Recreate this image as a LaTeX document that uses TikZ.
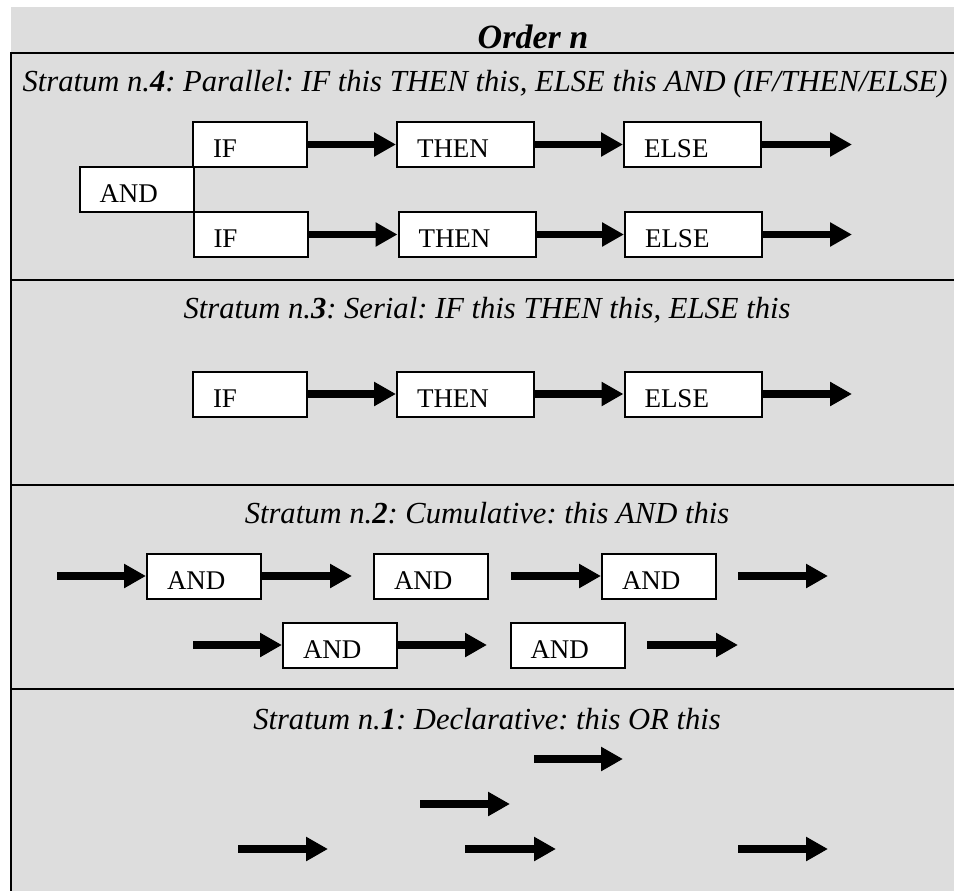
\documentclass[tikz,border=0pt]{standalone}
\usepackage{fontspec}
\setmainfont{Liberation Serif}
\usetikzlibrary{arrows.meta}
\definecolor{bg}{RGB}{221,221,221}
\frenchspacing
\tikzset{
  x=1pt, y=-1pt,
  frame/.style={line width=2pt, draw=black},
  box/.style={draw=black, fill=white, line width=2pt, minimum height=45pt,
    inner xsep=20pt, inner ysep=0pt, text width=74pt, align=left,
    text height=26.6pt, text depth=0pt, font=\fontsize{27}{30}\selectfont},
  wide/.style={text width=97pt},
  arr/.style={line width=7.5pt, -{Triangle[length=22pt,width=23pt]}},
  title/.style={anchor=base, inner sep=0pt, font=\fontsize{30.6}{34}\selectfont\itshape},
  ordert/.style={anchor=base, inner sep=0pt, font=\fontsize{34}{38}\selectfont\bfseries\itshape}
}
\begin{document}
\begin{tikzpicture}
\frenchspacing
\useasboundingbox (0,0) rectangle (954,891);
\fill[white] (0,0) rectangle (954,891);
\fill[bg] (11,7) rectangle (954,891);
% frame
\draw[frame] (11,891) -- (11,52.7) -- (954,52.7);
\draw[frame] (11,280) -- (954,280);
\draw[frame] (11,485) -- (954,485);
\draw[frame] (11,689) -- (954,689);
% titles
\node[ordert] (order) at (533,49) {Order n};
\node[title] (t4) at (485,92) {Stratum n.\textbf{4}: Parallel: IF this THEN this, ELSE this AND (IF/THEN/ELSE)};
\node[title] (t3) at (487,318) {Stratum n.\textbf{3}: Serial: IF this THEN this, ELSE this};
\node[title] (t2) at (487,523) {Stratum n.\textbf{2}: Cumulative: this AND this};
\node[title] (t1) at (487,729) {Stratum n.\textbf{1}: Declarative: this OR this};
% stratum 4
\node[box] (s4if1) at (250,144.5) {IF};
\node[box,wide] (s4then1) at (465.5,144.5) {THEN};
\node[box,wide] (s4else1) at (692.5,144.5) {ELSE};
\node[box] (s4and) at (136.5,189.5) {AND};
\node[box] (s4if2) at (250.5,234.5) {IF};
\node[box,wide] (s4then2) at (467,234.5) {THEN};
\node[box,wide] (s4else2) at (693.5,234.5) {ELSE};
\coordinate (s4out1) at (852,144.5);
\coordinate (s4out2) at (852,234.5);
\draw[arr] (s4if1) -- (s4then1);
\draw[arr] (s4then1) -- (s4else1);
\draw[arr] (s4else1) -- (s4out1);
\draw[arr] (s4if2) -- (s4then2);
\draw[arr] (s4then2) -- (s4else2);
\draw[arr] (s4else2) -- (s4out2);
% stratum 3
\node[box] (s3if) at (250,394) {IF};
\node[box,wide] (s3then) at (465.5,394) {THEN};
\node[box,wide] (s3else) at (693,394) {ELSE};
\coordinate (s3out) at (852,394);
\draw[arr] (s3if) -- (s3then);
\draw[arr] (s3then) -- (s3else);
\draw[arr] (s3else) -- (s3out);
% stratum 2
\node[box] (s2a1) at (204,576) {AND};
\node[box] (s2a2) at (431,576) {AND};
\node[box] (s2a3) at (659,576) {AND};
\node[box] (s2a4) at (340,645) {AND};
\node[box] (s2a5) at (567.5,645) {AND};
\coordinate (s2in1) at (57,576);
\coordinate (s2e1) at (352,576);
\coordinate (s2s2) at (511,576);
\coordinate (s2e3a) at (738,576);
\coordinate (s2e3b) at (828,576);
\coordinate (s2in2) at (193,645);
\coordinate (s2e4) at (487,645);
\coordinate (s2e5a) at (647,645);
\coordinate (s2e5b) at (738,645);
\draw[arr] (s2in1) -- (s2a1);
\draw[arr] (s2a1) -- (s2e1);
\draw[arr] (s2s2) -- (s2a3);
\draw[arr] (s2e3a) -- (s2e3b);
\draw[arr] (s2in2) -- (s2a4);
\draw[arr] (s2a4) -- (s2e4);
\draw[arr] (s2e5a) -- (s2e5b);
% stratum 1
\coordinate (s1a) at (534,759);
\coordinate (s1b) at (623,759);
\coordinate (s1c) at (420,804);
\coordinate (s1d) at (510,804);
\coordinate (s1e) at (238,849);
\coordinate (s1f) at (328,849);
\coordinate (s1g) at (465,849);
\coordinate (s1h) at (556,849);
\coordinate (s1i) at (738,849);
\coordinate (s1j) at (828,849);
\draw[arr] (s1a) -- (s1b);
\draw[arr] (s1c) -- (s1d);
\draw[arr] (s1e) -- (s1f);
\draw[arr] (s1g) -- (s1h);
\draw[arr] (s1i) -- (s1j);
\end{tikzpicture}
\end{document}
